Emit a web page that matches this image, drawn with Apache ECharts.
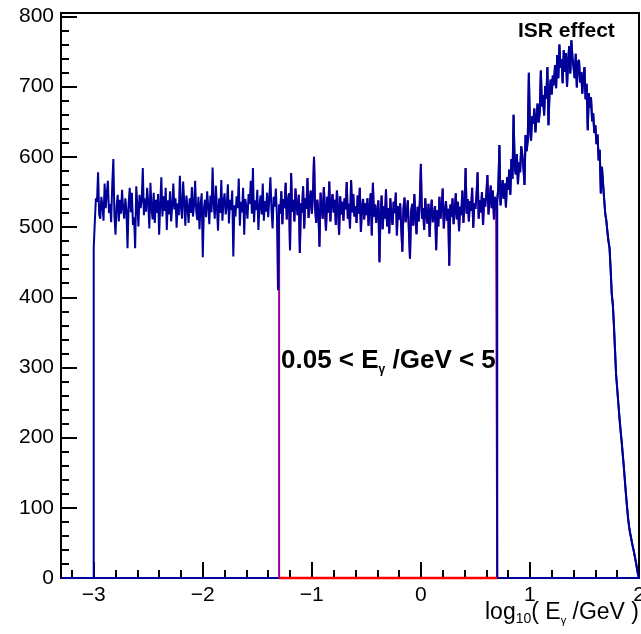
<!DOCTYPE html>
<html>
<head>
<meta charset="utf-8">
<script src="https://cdn.jsdelivr.net/npm/echarts@6/dist/echarts.min.js"></script>
<style>
  html, body { margin: 0; padding: 0; background: #fff; }
  #chart { width: 641px; height: 634px; }
</style>
</head>
<body>
<div id="chart"></div>
<script>
// histogram: log10(E_gamma/GeV), bins of 0.01 starting at -3.00
const binLow = -3.0
const binWidth = 0.01
const counts = [
  471, 507, 541, 536, 578, 518, 512, 543, 531, 509,
  562, 527, 548, 566, 520, 533, 507, 561, 597, 515,
  489, 530, 546, 508, 539, 519, 553, 526, 512, 541,
  524, 470, 533, 556, 521, 549, 503, 514, 470, 558,
  531, 501, 546, 527, 538, 584, 517, 541, 522, 556,
  535, 498, 563, 527, 511, 549, 506, 539, 520, 547,
  489, 532, 571, 515, 544, 523, 556, 496, 538, 518,
  551, 508, 530, 562, 525, 541, 499, 534, 517, 573,
  528, 512, 565, 536, 502, 545, 529, 506, 541, 520,
  557, 515, 531, 566, 523, 510, 543, 497, 532, 548,
  457, 526, 539, 514, 551, 530, 504, 545, 521, 585,
  533, 512, 559, 527, 495, 541, 520, 567, 509, 536,
  548, 518, 530, 561, 505, 539, 524, 552, 458, 531,
  515, 544, 527, 569, 502, 536, 521, 556, 489, 540,
  528, 512, 547, 533, 566, 519, 584, 507, 538, 524,
  553, 496, 531, 545, 518, 562, 509, 537, 522, 549,
  514, 540, 571, 526, 498, 543, 529, 555, 517, 410,
  532, 519, 551, 504, 540, 527, 563, 511, 536, 548,
  467, 577, 522, 539, 508, 555, 530, 517, 546, 463,
  534, 521, 558, 498, 541, 526, 570, 513, 537, 552,
  519, 544, 600, 528, 506, 539, 523, 472, 549, 531,
  512, 557, 526, 495, 543, 520, 565, 508, 534, 547,
  521, 539, 503, 552, 527, 489, 544, 518, 536, 509,
  541, 525, 564, 512, 533, 498, 567, 521, 547, 515,
  530, 506, 545, 519, 556, 493, 528, 540, 511, 534,
  517, 541, 502, 529, 548, 488, 563, 515, 532, 506,
  524, 538, 450, 519, 545, 497, 530, 512, 554, 501,
  527, 491, 541, 516, 503, 536, 520, 549, 488, 530,
  511, 534, 498, 465, 526, 542, 507, 519, 538, 495,
  455, 521, 533, 502, 547, 514, 490, 529, 508, 536,
  590, 512, 527, 496, 541, 518, 505, 533, 486, 522,
  539, 507, 516, 530, 467, 524, 501, 543, 512, 528,
  555, 498, 521, 537, 509, 526, 445, 532, 515, 541,
  504, 523, 548, 511, 536, 494, 529, 517, 552, 506,
  531, 584, 519, 540, 508, 537, 523, 556, 499, 534,
  526, 545, 578, 512, 538, 521, 550, 503, 541, 529,
  547, 574, 518, 536, 559, 527, 552, 511, 543, 524,
  538, 556, 617, 531, 549, 567, 540, 562, 528, 571,
  553, 582, 546, 597, 569, 660, 588, 575, 604, 561,
  592, 578, 615, 603, 586, 560, 631, 608, 624, 720,
  640, 623, 658, 647, 669, 635, 655, 676, 649, 664,
  723, 672, 688, 659, 701, 683, 728, 645, 694, 710,
  689, 716, 702, 731, 698, 745, 712, 760, 727, 739,
  705, 752, 721, 748, 700, 736, 758, 719, 766, 741,
  728, 712, 747, 699, 735, 738, 706, 721, 690, 715,
  728, 682, 704, 638, 691, 670, 685, 651, 662, 634,
  645, 618, 632, 595, 610, 548, 586, 563, 541, 520,
  510, 494, 480, 470, 440, 405, 390, 360, 325, 290,
  270, 250, 230, 212, 196, 178, 160, 140, 120, 102,
  85, 72, 63, 55, 47, 40, 32, 24, 15, 6
]

// selection 0.05 < E/GeV < 5 in log10
const cutLow = -1.3
const cutHigh = 0.7

const xMin = -3.3
const xMax = 2
const yMax = 805
const xMajorTicks = [-3, -2, -1, 0, 1, 2]
const yMajorTicks = [0, 100, 200, 300, 400, 500, 600, 700, 800]

const FONT = "'Liberation Sans', Helvetica, Arial, sans-serif"
const BLUE = '#000099'

const edge = i => +(binLow + i * binWidth).toFixed(2)
const binOf = x => Math.round((x - binLow) / binWidth)

// points for a step line drawn like a ROOT histogram
function histPoints(iFrom, iTo, startX) {
  const pts = [[startX, 0]]
  for (let i = iFrom; i <= iTo; i++) pts.push([edge(i), counts[i]])
  pts.push([edge(iTo + 1), 0])
  return pts
}

const xMinorTicks = []
for (let k = 0; k <= 26; k++) {
  const v = +(-3.2 + k * 0.2).toFixed(1)
  if (!xMajorTicks.includes(v)) xMinorTicks.push(v)
}
const yMinorTicks = []
for (let v = 20; v < 800; v += 20) if (v % 100) yMinorTicks.push(v)

const nBins = counts.length
const iCutLow = binOf(cutLow)
const iCutHigh = binOf(cutHigh)

const stepLine = (data, color, width) => ({
  type: 'line',
  step: 'end',
  data: data,
  showSymbol: false,
  symbol: 'none',
  clip: false,
  silent: true,
  lineStyle: { color: color, width: width },
  xAxisIndex: 0,
  yAxisIndex: 0
})

const chart = echarts.init(document.getElementById('chart'))
const option = {
  animation: false,
  backgroundColor: '#fff',
  grid: {
    left: 61, right: 2, top: 13, bottom: 56,
    show: true, borderColor: '#000', borderWidth: 2,
    containLabel: false,
    outerBoundsMode: 'none'
  },
  xAxis: [
    {
      type: 'value', min: xMin, max: xMax,
      axisLine: { onZero: false, lineStyle: { color: '#000', width: 2 } },
      axisTick: { inside: true, length: 16, customValues: xMajorTicks, lineStyle: { color: '#000', width: 2 } },
      axisLabel: {
        customValues: xMajorTicks, margin: 7, color: '#000', fontSize: 21, fontFamily: FONT,
        formatter: v => String(v).replace('-', '\u2212')
      },
      splitLine: { show: false }
    },
    {
      type: 'value', min: xMin, max: xMax, position: 'bottom',
      axisLine: { show: false, onZero: false },
      axisTick: { inside: true, length: 8, customValues: xMinorTicks, lineStyle: { color: '#000', width: 2 } },
      axisLabel: { show: false },
      splitLine: { show: false }
    }
  ],
  yAxis: [
    {
      type: 'value', min: 0, max: yMax, position: 'left',
      axisLine: { show: true, onZero: false, lineStyle: { color: '#000', width: 2 } },
      axisTick: { show: true, inside: true, length: 16, customValues: yMajorTicks, lineStyle: { color: '#000', width: 2 } },
      axisLabel: { customValues: yMajorTicks, margin: 7, color: '#000', fontSize: 21, fontFamily: FONT },
      splitLine: { show: false }
    },
    {
      type: 'value', min: 0, max: yMax, position: 'left',
      axisLine: { show: false, onZero: false },
      axisTick: { show: true, inside: true, length: 8, customValues: yMinorTicks, lineStyle: { color: '#000', width: 2 } },
      axisLabel: { show: false },
      splitLine: { show: false }
    }
  ],
  series: [
    stepLine([[xMin, 0], [xMax, 0]], BLUE, 2),
    stepLine(histPoints(iCutLow, iCutHigh - 1, cutLow), '#990099', 2),
    stepLine(histPoints(0, nBins - 1, xMin), BLUE, 2),
    stepLine(histPoints(iCutHigh, nBins - 1, cutHigh), BLUE, 2),
    stepLine([[cutLow, 0], [cutHigh, 0]], '#ff0000', 2.5)
  ],
  graphic: [
    {
      type: 'text', left: 518, top: 21, silent: true,
      style: { text: 'ISR effect', fill: '#000', font: 'bold 21px ' + FONT }
    },
    {
      type: 'text', left: 281, top: 348, silent: true,
      style: {
        text: '{m|0.05 < E}{s|\u03b3}{m| /GeV < 5}',
        rich: {
          m: { fontSize: 26, fontWeight: 'bold', fontFamily: FONT, fill: '#000', lineHeight: 30 },
          s: { fontSize: 12, fontWeight: 'bold', fontFamily: FONT, fill: '#000', verticalAlign: 'bottom', lineHeight: 12 }
        }
      }
    },
    {
      type: 'text', right: 2, top: 601, silent: true,
      style: {
        text: '{m|log}{s|10}{m|( E}{g|\u03b3}{m| /GeV}{m| )}',
        rich: {
          m: { fontSize: 23, fontFamily: FONT, fill: '#000', lineHeight: 28 },
          s: { fontSize: 14, fontFamily: FONT, fill: '#000', verticalAlign: 'bottom', lineHeight: 4 },
          g: { fontSize: 11, fontFamily: FONT, fill: '#000', verticalAlign: 'bottom', lineHeight: 4 }
        }
      }
    }
  ]
}
chart.setOption(option)
window.addEventListener('resize', () => chart.resize())
</script>
</body>
</html>
